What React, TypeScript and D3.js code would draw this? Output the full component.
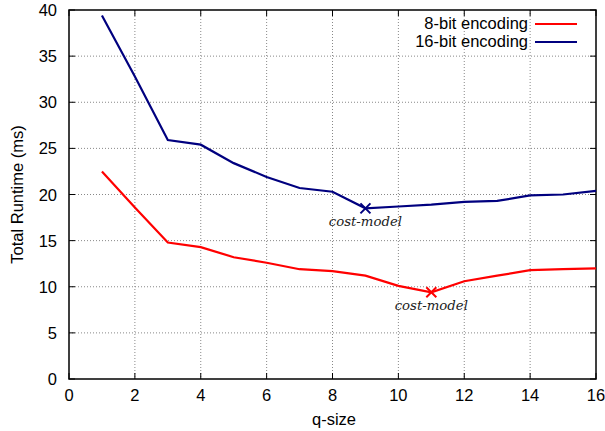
import React from "react";
import * as d3 from "d3";

const qSizes = [1, 2, 3, 4, 5, 6, 7, 8, 9, 10, 11, 12, 13, 14, 15, 16];
const runtime8 = [22.5, 18.6, 14.8, 14.3, 13.2, 12.6, 11.9, 11.7, 11.2, 10.1, 9.4, 10.6, 11.2, 11.8, 11.9, 12.0];
const runtime16 = [39.4, 32.8, 25.9, 25.4, 23.4, 21.9, 20.7, 20.3, 18.5, 18.7, 18.9, 19.2, 19.3, 19.9, 20.0, 20.4];
const xTicks = [0, 2, 4, 6, 8, 10, 12, 14, 16];
const yTicks = [0, 5, 10, 15, 20, 25, 30, 35, 40];
const seriesNames = ["8-bit encoding", "16-bit encoding"];
const seriesColors = ["#ff0000", "#00007f"];
const costModelQ = [11, 9];

const W = 605, H = 431;
const L = 69, R = 596, T = 10, B = 379;

export default function App() {
  const x = d3.scaleLinear().domain([0, 16]).range([L, R]);
  const y = d3.scaleLinear().domain([0, 40]).range([B, T]);
  const line = d3.line<number>().x((_, i) => x(qSizes[i])).y((d) => y(d));
  const series = [runtime8, runtime16];
  const font = "'Liberation Sans', Arial, Helvetica, sans-serif";
  const fs = 16.5;
  return (
    <svg width={W} height={H} style={{ position: "absolute", left: 0, top: 0 }}>
      <rect width={W} height={H} fill="#fff" />
      {xTicks.slice(1, -1).map((t) => (
        <line key={"gx" + t} x1={x(t)} x2={x(t)} y1={T} y2={B} stroke="#888" strokeWidth={1} strokeDasharray="1,2" />
      ))}
      {yTicks.slice(1, -1).map((t) => (
        <line key={"gy" + t} x1={L} x2={R} y1={y(t)} y2={y(t)} stroke="#888" strokeWidth={1} strokeDasharray="1,2" />
      ))}
      {xTicks.map((t) => (
        <g key={"tx" + t}>
          <line x1={x(t)} x2={x(t)} y1={B} y2={B - 6} stroke="#000" />
          <line x1={x(t)} x2={x(t)} y1={T} y2={T + 6} stroke="#000" />
          <text x={x(t)} y={401} fontFamily={font} fontSize={fs} textAnchor="middle">{t}</text>
        </g>
      ))}
      {yTicks.map((t) => (
        <g key={"ty" + t}>
          <line x1={L} x2={L + 6} y1={y(t)} y2={y(t)} stroke="#000" />
          <line x1={R} x2={R - 6} y1={y(t)} y2={y(t)} stroke="#000" />
          <text x={57} y={y(t) + 6} fontFamily={font} fontSize={fs} textAnchor="end">{t}</text>
        </g>
      ))}
      <rect x={L} y={T} width={R - L} height={B - T} fill="none" stroke="#000" strokeWidth={1.5} />
      {series.map((s, i) => (
        <path key={"s" + i} d={line(s) || ""} fill="none" stroke={seriesColors[i]} strokeWidth={2.2} strokeLinejoin="miter" />
      ))}
      {costModelQ.map((q, i) => {
        const idx = qSizes.indexOf(q);
        const cx = x(q), cy = y(series[i][idx]);
        const r = 5;
        return (
          <g key={"m" + i}>
            <path d={`M${cx - r},${cy - r}L${cx + r},${cy + r}M${cx - r},${cy + r}L${cx + r},${cy - r}`} stroke={seriesColors[i]} strokeWidth={2} />
            <text x={cx} y={cy + 17.5} fontFamily="'DejaVu Serif', serif" fontStyle="italic" fontSize={13.3} textAnchor="middle" fill="#222">cost-model</text>
          </g>
        );
      })}
      {seriesNames.map((n, i) => (
        <g key={"l" + i}>
          <text x={528} y={29 + i * 18} fontFamily={font} fontSize={fs} textAnchor="end">{n}</text>
          <line x1={535} x2={577} y1={24 + i * 18} y2={24 + i * 18} stroke={seriesColors[i]} strokeWidth={2.2} />
        </g>
      ))}
      <text transform={`translate(23,${(T + B) / 2}) rotate(-90)`} fontFamily={font} fontSize={fs} textAnchor="middle">Total Runtime (ms)</text>
      <text x={334} y={425} fontFamily={font} fontSize={fs} textAnchor="middle">q-size</text>
    </svg>
  );
}
